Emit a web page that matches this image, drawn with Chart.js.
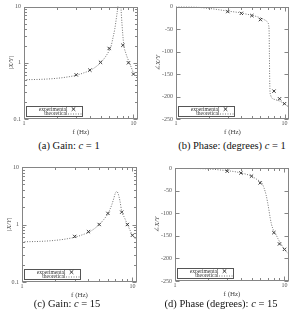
<!DOCTYPE html>
<html><head><meta charset="utf-8">
<script src="https://cdn.jsdelivr.net/npm/chart.js@4/dist/chart.umd.min.js"></script>
<style>
body{margin:0;background:#fff;width:294px;height:316px;overflow:hidden;position:relative;font-family:"Liberation Serif","DejaVu Serif",serif;}
canvas{position:absolute;}
.cap{position:absolute;font-size:10.5px;color:#111;text-align:center;white-space:nowrap;line-height:12px;}
</style></head><body>
<canvas id="ca" width="147" height="138" style="left:0;top:0"></canvas>
<canvas id="cb" width="147" height="138" style="left:147px;top:0"></canvas>
<canvas id="cc" width="147" height="142" style="left:0;top:158px"></canvas>
<canvas id="cd" width="147" height="142" style="left:147px;top:158px"></canvas>
<div class="cap" style="left:9px;top:140px;width:120px">(a) Gain: <i>c</i> = 1</div>
<div class="cap" style="left:162px;top:140px;width:140px">(b) Phase: (degrees) <i>c</i> = 1</div>
<div class="cap" style="left:7px;top:298px;width:120px">(c) Gain: <i>c</i> = 15</div>
<div class="cap" style="left:151px;top:298px;width:140px">(d) Phase (degrees): <i>c</i> = 15</div>
<script>
// ---- data ----
const xMajor = [1, 10];
const xMinor = [2, 3, 4, 5, 6, 7, 8, 9];
const gainMajor = [0.1, 1, 10];
const gainMinor = [0.2, 0.3, 0.4, 0.5, 0.6, 0.7, 0.8, 0.9, 2, 3, 4, 5, 6, 7, 8, 9];
const phaseMajor = [0, -50, -100, -150, -200, -250];

const freqExp = [3, 4, 5, 6, 8, 9, 10];
const gainExpC1 = [0.61, 0.74, 1.02, 1.8, 2.05, 1.0, 0.63];
const phaseExpC1 = [-11, -15, -20, -29, -188, -205, -216];
const gainExpC15 = [0.62, 0.75, 1.0, 1.56, 1.64, 1.0, 0.65];
const phaseExpC15 = [-7, -11, -18, -33, -143, -168, -180];

const fGainC1 = [1, 1.5, 2, 2.5, 3, 3.5, 4, 4.5, 5, 5.5, 6, 6.25, 6.5, 6.75, 7, 7.2, 7.35, 7.55, 7.7, 7.85, 8.15, 8.5, 9, 9.5, 10, 10.5, 11];
const gGainC1 = [0.50, 0.51, 0.53, 0.56, 0.60, 0.66, 0.73, 0.84, 1.0, 1.25, 1.65, 2.0, 2.8, 4.0, 6.5, 10, 16, 16, 9, 5, 2.1, 1.5, 1.1, 0.85, 0.66, 0.57, 0.5];

const fPhaseC1 = [1, 1.5, 2, 2.5, 3, 3.5, 4, 4.5, 5, 5.5, 6, 6.5, 6.8, 7, 7.15, 7.22, 7.26, 7.3, 7.35, 7.45, 7.7, 8, 8.5, 9, 9.5, 10, 10.5, 11];
const pPhaseC1 = [0, -1, -4, -7, -10, -12, -14, -17, -19, -22, -25, -29, -32, -35, -42, -60, -110, -160, -188, -197, -204, -206, -208, -210, -213, -216, -220, -224];

const fGainC15 = [1, 1.5, 2, 2.5, 3, 3.5, 4, 4.5, 5, 5.5, 6, 6.5, 6.8, 7, 7.2, 7.4, 7.7, 8, 8.5, 9, 9.5, 10, 10.5, 11];
const gGainC15 = [0.50, 0.51, 0.53, 0.56, 0.60, 0.66, 0.73, 0.84, 1.0, 1.22, 1.55, 2.2, 2.9, 3.5, 3.75, 3.5, 2.6, 1.7, 1.3, 1.0, 0.8, 0.65, 0.58, 0.53];

const fPhaseC15 = [1, 1.5, 2, 2.5, 3, 3.5, 4, 4.5, 5, 5.5, 6, 6.2, 6.5, 6.8, 7, 7.2, 7.4, 7.6, 7.8, 8, 8.3, 8.7, 9.3, 10, 10.5, 11];
const pPhaseC15 = [0, -1, -2, -4, -6, -8, -11, -14, -18, -24, -30, -33, -44, -60, -75, -92, -110, -124, -133, -139, -145, -156, -168, -180, -186, -191];

const legendLabels = ['experimental', 'theoretical'];

// ---- drawing ----
const SERIF = '"Liberation Serif","DejaVu Serif",serif';
const AXIS = '#858585';

const framePlugin = {
  id: 'frame',
  afterDraw(chart, args, o) {
    const {ctx, chartArea: a, scales} = chart;
    const xs = scales.x, ys = scales.y;
    const L = Math.round(a.left) + 0.5, R = Math.round(a.right) - 0.5;
    const T = Math.round(a.top) + 0.5, B = Math.round(a.bottom) - 0.5;
    ctx.save();
    ctx.strokeStyle = AXIS; ctx.lineWidth = 1;
    ctx.strokeRect(L, T, R - L, B - T);
    ctx.beginPath();
    const vt = (vals, len) => vals.forEach(v => {
      const px = Math.round(xs.getPixelForValue(v)) + 0.5;
      ctx.moveTo(px, B); ctx.lineTo(px, B - len);
      ctx.moveTo(px, T); ctx.lineTo(px, T + len);
    });
    const ht = (vals, len) => vals.forEach(v => {
      const py = Math.round(ys.getPixelForValue(v)) + 0.5;
      ctx.moveTo(L, py); ctx.lineTo(L + len, py);
      ctx.moveTo(R, py); ctx.lineTo(R - len, py);
    });
    vt(xMajor, 4); vt(xMinor, 2.5);
    ht(o.yMajor, 4); ht(o.yMinor || [], 2.5);
    ctx.stroke();
    // legend box
    const lx = Math.round(a.left) + 2.5, bt = Math.round(a.bottom) - 12.5;
    const w = 56, h = 10;
    ctx.fillStyle = '#fff';
    ctx.fillRect(lx, bt, w, h);
    ctx.strokeStyle = '#555';
    ctx.strokeRect(lx, bt, w, h);
    ctx.fillStyle = '#333';
    ctx.font = '5.5px ' + SERIF;
    ctx.textAlign = 'right'; ctx.textBaseline = 'middle';
    ctx.fillText(legendLabels[0], lx + 41, bt + 2.8);
    ctx.fillText(legendLabels[1], lx + 41, bt + 7.4);
    // cross marker
    const cx = lx + 47, cy = bt + 2.6;
    ctx.strokeStyle = '#333';
    ctx.beginPath();
    ctx.moveTo(cx - 1.8, cy - 1.8); ctx.lineTo(cx + 1.8, cy + 1.8);
    ctx.moveTo(cx + 1.8, cy - 1.8); ctx.lineTo(cx - 1.8, cy + 1.8);
    ctx.stroke();
    // dotted sample
    ctx.strokeStyle = '#777';
    ctx.setLineDash([1, 1.5]);
    ctx.beginPath();
    ctx.moveTo(lx + 41.5, bt + 7.5); ctx.lineTo(lx + 55, bt + 7.5);
    ctx.stroke();
    ctx.restore();
  }
};

function build(id, c) {
  const W = c.W, H = c.H, XH = 18;
  const tickFont = {family: SERIF, size: 6};
  new Chart(document.getElementById(id), {
    type: 'scatter',
    data: {
      datasets: [
        {
          data: c.lx.map((x, i) => ({x, y: c.ly[i]})),
          showLine: true, pointRadius: 0, borderColor: '#707070', borderWidth: 1,
          borderDash: [1, 1.5], cubicInterpolationMode: 'monotone', fill: false
        },
        {
          data: freqExp.map((x, i) => ({x, y: c.ey[i]})),
          showLine: false, pointStyle: 'crossRot', pointRadius: 2.3,
          borderColor: '#333', borderWidth: 1, backgroundColor: '#333'
        }
      ]
    },
    options: {
      responsive: false, animation: false, devicePixelRatio: 1,
      events: [],
      layout: {padding: {left: 0, top: c.t, right: W - c.r, bottom: H - c.b - XH}},
      plugins: {legend: {display: false}, tooltip: {enabled: false},
        frame: {yMajor: c.yMajor, yMinor: c.yMinor}},
      scales: {
        x: {
          type: 'logarithmic', min: 1, max: 11,
          afterBuildTicks: s => { s.ticks = xMajor.map(v => ({value: v})); },
          afterFit: s => { s.height = XH; },
          grid: {display: false, drawTicks: false}, border: {display: false},
          ticks: {padding: 1, font: tickFont, color: '#555', callback: v => String(v), maxRotation: 0, autoSkip: false},
          title: {display: true, text: 'f (Hz)', font: {family: SERIF, size: 7}, color: '#444', padding: {top: 0, bottom: 1}}
        },
        y: {
          type: c.yType, min: c.yMin, max: c.yMax,
          afterBuildTicks: s => { s.ticks = c.yMajor.map(v => ({value: v})); },
          afterFit: s => { s.width = c.l; },
          grid: {display: false, drawTicks: false}, border: {display: false},
          ticks: {padding: 3, font: tickFont, color: '#555', callback: v => String(v), autoSkip: false},
          title: {display: true, text: c.yTitle, font: {family: SERIF, size: 7, style: 'italic'}, color: '#444', padding: {top: c.tp, bottom: 0}}
        }
      }
    },
    plugins: [framePlugin]
  });
}

build('ca', {W: 147, H: 138, l: 24, t: 6, r: 138, b: 119, yType: 'logarithmic', yMin: 0.1, yMax: 10,
  yMajor: gainMajor, yMinor: gainMinor, yTitle: '|X/Y|', tp: 6.5, lx: fGainC1, ly: gGainC1, ey: gainExpC1});
build('cb', {W: 147, H: 138, l: 29, t: 6, r: 143, b: 119, yType: 'linear', yMin: -250, yMax: 0,
  yMajor: phaseMajor, yMinor: [], yTitle: '∠X/Y', tp: 7, lx: fPhaseC1, ly: pPhaseC1, ey: phaseExpC1});
build('cc', {W: 147, H: 142, l: 22, t: 9, r: 137, b: 124, yType: 'logarithmic', yMin: 0.1, yMax: 10,
  yMajor: gainMajor, yMinor: gainMinor, yTitle: '|X/Y|', tp: 5, lx: fGainC15, ly: gGainC15, ey: gainExpC15});
build('cd', {W: 147, H: 142, l: 28, t: 10, r: 143, b: 123, yType: 'linear', yMin: -250, yMax: 0,
  yMajor: phaseMajor, yMinor: [], yTitle: '∠X/Y', tp: 6, lx: fPhaseC15, ly: pPhaseC15, ey: phaseExpC15});
</script>
</body></html>
